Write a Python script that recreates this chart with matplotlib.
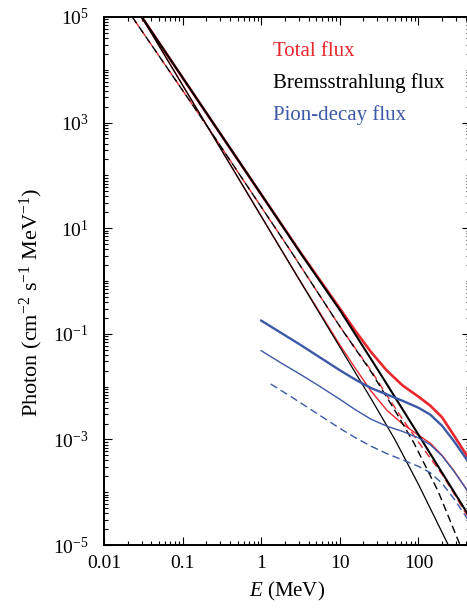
import numpy as np
import matplotlib.pyplot as plt
from matplotlib.ticker import LogLocator, FixedLocator, FixedFormatter, NullFormatter

plt.rcParams['font.family'] = ['Liberation Serif', 'DejaVu Serif']
plt.rcParams['mathtext.fontset'] = 'custom'
plt.rcParams['mathtext.rm'] = 'Liberation Serif'
plt.rcParams['mathtext.it'] = 'Liberation Serif:italic'

RED = '#e8262e'
BLUE = '#3c59a8'

# values, as log10(E / MeV) and log10(flux)
brem_thick_lE = [-1.52, 0.00, 0.50, 1.00, 1.50, 2.00, 2.66]
brem_thick_lF = [5.00, 1.64, 0.53, -0.55, -1.72, -2.91, -4.49]
brem_thin_lE = [-1.52, 0.26, 1.00, 1.39, 1.70, 2.00, 2.38, 2.45]
brem_thin_lF = [5.00, 0.58, -1.25, -2.21, -3.00, -3.85, -5.00, -5.20]
brem_dash_lE = [-1.64, -0.65, 0.37, 1.00, 1.39, 1.70, 1.94, 2.25, 2.53, 2.60]
brem_dash_lF = [5.00, 2.85, 0.58, -0.86, -1.70, -2.45, -3.06, -3.98, -5.00, -5.30]

pion_thick_lE = [0.00, 0.25, 0.50, 0.75, 1.00, 1.20, 1.40, 1.60, 1.80, 2.00, 2.15, 2.30, 2.45, 2.60, 2.66]
pion_thick_lF = [-0.75, -0.98, -1.21, -1.45, -1.69, -1.87, -2.03, -2.15, -2.27, -2.40, -2.53, -2.74, -3.03, -3.35, -3.49]
pion_thin_lE = [0.00, 0.25, 0.50, 0.75, 1.00, 1.20, 1.40, 1.60, 1.80, 2.00, 2.15, 2.30, 2.45, 2.60, 2.66]
pion_thin_lF = [-1.32, -1.55, -1.77, -2.00, -2.24, -2.44, -2.62, -2.75, -2.85, -2.97, -3.10, -3.31, -3.60, -3.92, -4.06]
pion_dash_lE = [0.12, 0.40, 0.70, 1.00, 1.20, 1.40, 1.60, 1.80, 2.00, 2.15, 2.30, 2.45, 2.60, 2.66]
pion_dash_lF = [-1.95, -2.21, -2.50, -2.79, -2.97, -3.13, -3.27, -3.39, -3.51, -3.63, -3.83, -4.12, -4.45, -4.60]

total_thick_lE = [-1.52, 0.00, 0.50, 1.00, 1.20, 1.40, 1.60, 1.80, 2.00, 2.15, 2.30, 2.45, 2.60, 2.66]
total_thick_lF = [5.00, 1.64, 0.54, -0.52, -0.95, -1.35, -1.70, -1.98, -2.19, -2.36, -2.58, -2.92, -3.27, -3.42]
total_thin_lE = [-1.52, 0.26, 0.50, 1.00, 1.20, 1.40, 1.60, 1.80, 2.00, 2.15, 2.30, 2.45, 2.60, 2.66]
total_thin_lF = [5.00, 0.58, -0.01, -1.21, -1.66, -2.09, -2.45, -2.71, -2.92, -3.07, -3.30, -3.59, -3.92, -4.06]
total_dash_lE = [-1.64, -0.65, 0.37, 1.00, 1.20, 1.40, 1.60, 1.80, 2.00, 2.15, 2.30, 2.45, 2.60, 2.66]
total_dash_lF = [5.00, 2.85, 0.58, -0.86, -1.28, -1.70, -2.17, -2.62, -3.05, -3.35, -3.66, -4.02, -4.39, -4.55]

fig = plt.figure(figsize=(4.67, 6.11), dpi=100)
ax = fig.add_axes([0.2227, 0.108, 0.7837, 0.8642])


def line(lE, lF, **kw):
    ax.plot(10 ** np.array(lE), 10 ** np.array(lF), **kw)


dash = (5.5, 3.0)
# totals (under)
line(total_thick_lE, total_thick_lF, color=RED, lw=1.9, zorder=2)
line(total_thin_lE, total_thin_lF, color=RED, lw=1.0, zorder=2)
line(total_dash_lE, total_dash_lF, color=RED, lw=1.0, ls=(5.5, dash), zorder=2)
# bremsstrahlung
line(brem_thick_lE, brem_thick_lF, color='black', lw=1.5, zorder=3)
line(brem_thin_lE, brem_thin_lF, color='black', lw=0.9, zorder=3)
line(brem_dash_lE, brem_dash_lF, color='black', lw=1.0, ls=(0, dash), zorder=3)
# pion decay
line(pion_thick_lE, pion_thick_lF, color=BLUE, lw=1.7, zorder=3)
line(pion_thin_lE, pion_thin_lF, color=BLUE, lw=1.0, zorder=3)
line(pion_dash_lE, pion_dash_lF, color=BLUE, lw=1.0, ls=(0, dash), zorder=3)

ax.set_xscale('log')
ax.set_yscale('log')
ax.set_xlim(0.01, 453)
ax.set_ylim(1e-5, 1e5)

ax.xaxis.set_major_locator(FixedLocator([0.01, 0.1, 1, 10, 100]))
ax.xaxis.set_major_formatter(FixedFormatter(['0.01', '0.1', '1', '10', '100']))
ax.xaxis.set_minor_locator(LogLocator(base=10, subs=np.arange(2, 10), numticks=20))
ax.xaxis.set_minor_formatter(NullFormatter())
ax.set_yticks([1e-5, 1e-3, 1e-1, 1e1, 1e3, 1e5],
              [r'$10^{-5}$', r'$10^{-3}$', r'$10^{-1}$', r'$10^{1}$', r'$10^{3}$', r'$10^{5}$'])
ax.yaxis.set_minor_locator(LogLocator(base=10, subs=np.arange(1, 10), numticks=30))
ax.yaxis.set_minor_formatter(NullFormatter())

ax.tick_params(which='both', direction='in', top=True, right=True, width=0.8)
ax.tick_params(which='major', length=6)
ax.tick_params(which='minor', length=3)
ax.tick_params(axis='x', labelsize=14, pad=7)
ax.tick_params(axis='y', labelsize=14, pad=11)
for s in ax.spines.values():
    s.set_linewidth(1.4)

ax.set_xlabel('$E$ (MeV)', fontsize=15, labelpad=6)
ax.set_ylabel(r'Photon (cm$^{-2}$ s$^{-1}$ MeV$^{-1}$)', fontsize=16)
ax.yaxis.set_label_coords(-0.162, 0.46)

ax.text(0.462, 0.934, 'Total flux', color=RED, fontsize=15, va='center', transform=ax.transAxes)
ax.text(0.462, 0.875, 'Bremsstrahlung flux', color='black', fontsize=15, va='center', transform=ax.transAxes)
ax.text(0.462, 0.814, 'Pion-decay flux', color=BLUE, fontsize=15, va='center', transform=ax.transAxes)

fig.savefig('out.png', dpi=100)
